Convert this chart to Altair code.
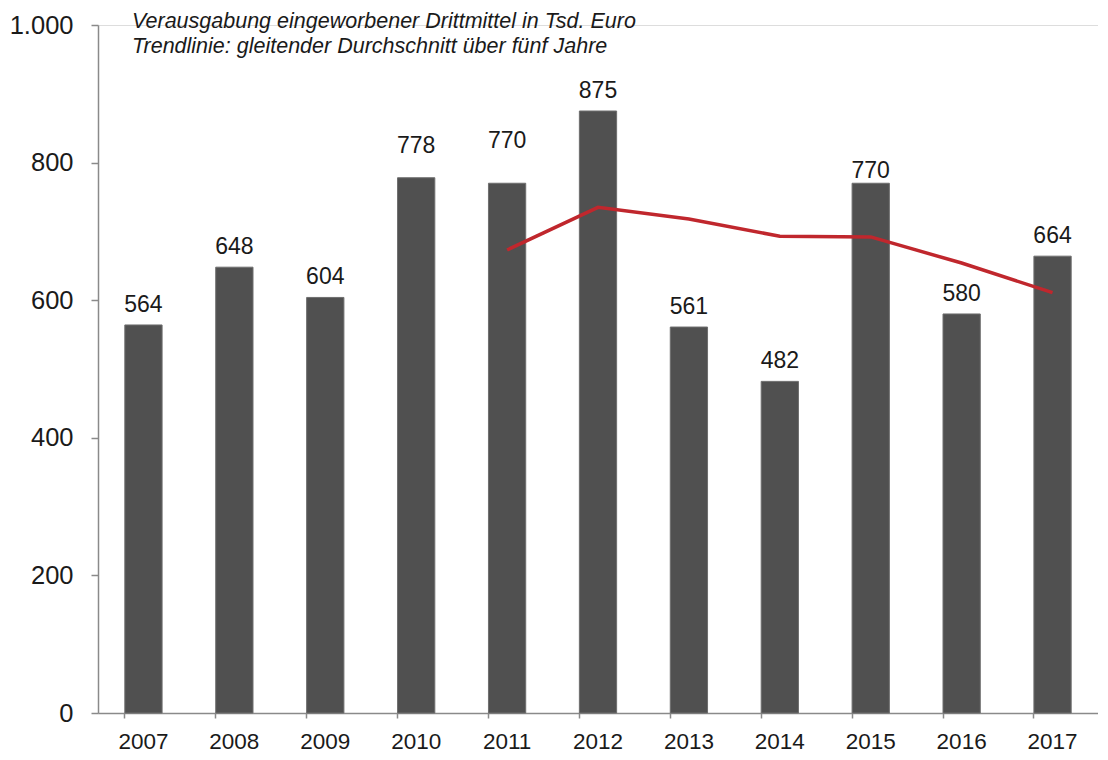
import altair as alt
import pandas as pd

years = ["2007", "2008", "2009", "2010", "2011", "2012", "2013", "2014", "2015", "2016", "2017"]
values = [564, 648, 604, 778, 770, 875, 561, 482, 770, 580, 664]
trend_years = ["2011", "2012", "2013", "2014", "2015", "2016", "2017"]
trend_values = [673, 735, 718, 693, 692, 654, 611]
y_ticks = [0, 200, 400, 600, 800, 1000]
note_line1 = "Verausgabung eingeworbener Drittmittel in Tsd. Euro"
note_line2 = "Trendlinie: gleitender Durchschnitt über fünf Jahre"

FONT = "Liberation Sans"
bars_df = pd.DataFrame({"year": years, "value": values})
trend_df = pd.DataFrame({"year": trend_years, "value": trend_values})

x_scale = alt.Scale(domain=years, paddingInner=0.59, paddingOuter=0.295)
y_scale = alt.Scale(domain=[0, 1000], nice=False)

x_enc = alt.X(
    "year:N", scale=x_scale, sort=years, title=None,
    axis=alt.Axis(labelAngle=0, labelFontSize=22.5, labelFont=FONT, labelColor="#1a1a1a",
                  domainColor="#8a8a8a", domainWidth=1.5, tickColor="#8a8a8a", tickWidth=1.5,
                  tickSize=5, labelPadding=12, bandPosition=0, grid=False),
)
y_enc = alt.Y(
    "value:Q", scale=y_scale, title=None,
    axis=alt.Axis(values=y_ticks, labelFontSize=25.5, labelFont=FONT, labelColor="#1a1a1a",
                  labelExpr="replace(format(datum.value, ','), ',', '.')",
                  domainColor="#8a8a8a", domainWidth=1.5, tickColor="#8a8a8a", tickWidth=1.5,
                  tickSize=7, labelPadding=18, grid=False),
)

base = alt.Chart(bars_df)
bars = base.mark_bar(color="#505050", stroke="#6e6e6e", strokeWidth=1).encode(x=x_enc, y=y_enc)

def labels(filter_expr, dy):
    return base.transform_filter(filter_expr).mark_text(
        baseline="alphabetic", align="center", dy=dy, fontSize=23, font=FONT, color="#1a1a1a"
    ).encode(x=alt.X("year:N", scale=x_scale, sort=years), y=alt.Y("value:Q", scale=y_scale),
             text=alt.Text("value:Q"))

lab_std = labels("datum.year != '2010' && datum.year != '2011' && datum.year != '2015'", -13)
lab_2010 = labels("datum.year == '2010'", -25)
lab_2011 = labels("datum.year == '2011'", -35)
lab_2015 = labels("datum.year == '2015'", -5)

trend = alt.Chart(trend_df).mark_line(color="#c0272d", strokeWidth=3.5).encode(
    x=alt.X("year:N", scale=x_scale, sort=years),
    y=alt.Y("value:Q", scale=y_scale),
)

note1 = alt.Chart(pd.DataFrame({"t": [note_line1]})).mark_text(
    align="left", baseline="alphabetic", fontSize=21.5, fontStyle="italic", font=FONT, color="#1a1a1a"
).encode(x=alt.value(34), y=alt.value(3), text="t:N")
note2 = alt.Chart(pd.DataFrame({"t": [note_line2]})).mark_text(
    align="left", baseline="alphabetic", fontSize=21.5, fontStyle="italic", font=FONT, color="#1a1a1a"
).encode(x=alt.value(34), y=alt.value(28), text="t:N")

chart = alt.layer(bars, trend, lab_std, lab_2010, lab_2011, lab_2015, note1, note2).properties(
    width=1000, height=688,
    padding={"left": 1, "top": 3, "right": 0, "bottom": 0},
).configure_view(stroke=None).configure(background="white")

chart.save("out.html", embed_options={"renderer": "svg", "actions": False})
